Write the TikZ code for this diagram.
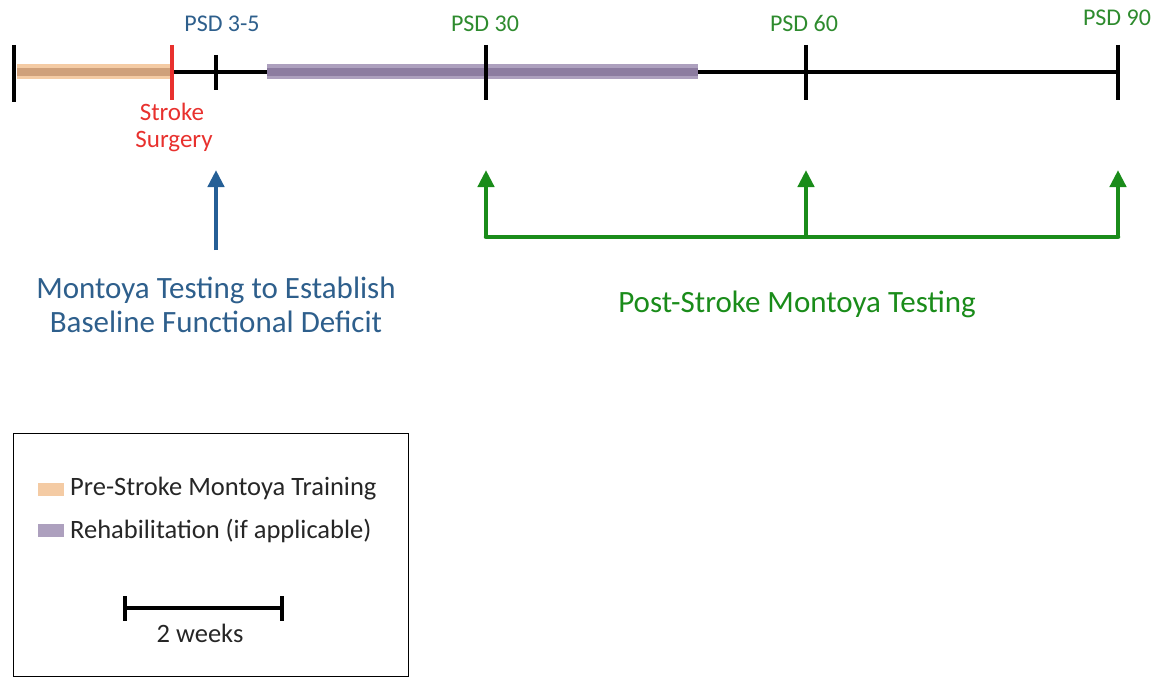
\documentclass[tikz,border=0pt]{standalone}
\usepackage{fontspec}
\setmainfont{Carlito}
\usetikzlibrary{arrows.meta}
\definecolor{tlblue}{HTML}{2E5F8C}
\definecolor{tlgreen}{HTML}{2E8B2E}
\definecolor{argreen}{HTML}{1A8C1A}
\definecolor{arblue}{HTML}{255F96}
\definecolor{tlred}{HTML}{E8312E}
\definecolor{orangeL}{HTML}{F4CBA4}
\definecolor{orangeD}{HTML}{CFA07A}
\definecolor{purpL}{HTML}{ADA0BE}
\definecolor{purpD}{HTML}{8C7CA0}
\tikzset{
  tline/.style={line width=4pt, black},
  ttick/.style={line width=4pt, black},
  lbl/.style={font=\fontsize{24}{28}\selectfont, inner sep=0pt, anchor=base},
  big/.style={font=\fontsize{31}{34}\selectfont, inner sep=0pt, anchor=base},
  leg/.style={font=\fontsize{26.5}{30}\selectfont, inner sep=0pt, anchor=base west},
  upar/.style={line width=4.5pt, -{Triangle[width=16pt,length=17pt]}},
  garrow/.style={upar, argreen},
}
\begin{document}
\begin{tikzpicture}[x=1pt,y=-1pt]
\useasboundingbox (0,0) rectangle (1170,677);
% timeline coordinates
\coordinate (t0) at (14,72);
\coordinate (t0b) at (17,72);
\coordinate (ts) at (172,72);
\coordinate (t3) at (216,72);
\coordinate (rs) at (267,72);
\coordinate (t30) at (486,72);
\coordinate (re) at (698,72);
\coordinate (t60) at (806,72);
\coordinate (t90) at (1118,72);
% bars
\draw[line width=15pt, orangeL] (t0b) -- (ts);
\draw[line width=8pt, orangeD] (t0b) -- (ts);
\draw[tline] (ts) -- (rs);
\draw[line width=15pt, purpL] (rs) -- (re);
\draw[line width=8pt, purpD] (rs) -- (re);
\draw[tline] (re) -- (t90);
% ticks
\draw[ttick] (14,45) -- (14,102);
\draw[line width=4pt, tlred] (172,45) -- (172,100);
\draw[ttick] (216,55) -- (216,90);
\draw[ttick] (486,45) -- (486,100);
\draw[ttick] (806,45) -- (806,100);
\draw[ttick] (1118,45) -- (1118,100);
% labels
\node[lbl, tlblue] (l3) at (222,32) {PSD 3-5};
\node[lbl, tlgreen] (l30) at (485,32) {PSD 30};
\node[lbl, tlgreen] (l60) at (804,32) {PSD 60};
\node[lbl, tlgreen] (l90) at (1117,26) {PSD 90};
\node[lbl, font=\fontsize{25}{28}\selectfont, tlred] (sk1) at (172,120) {Stroke};
\node[lbl, font=\fontsize{25}{28}\selectfont, tlred] (sk2) at (174,147) {Surgery};
% arrows
\coordinate (ba) at (216,250);
\coordinate (bt) at (216,170);
\draw[upar, arblue] (ba) -- (bt);
\coordinate (g1) at (486,237);
\coordinate (g2) at (806,237);
\coordinate (g3) at (1118,237);
\coordinate (g1t) at (486,170);
\coordinate (g2t) at (806,170);
\coordinate (g3t) at (1118,170);
\draw[line width=4.5pt, argreen, line cap=round] (g1) -- (g3);
\draw[garrow] (g1) -- (g1t);
\draw[garrow] (g2) -- (g2t);
\draw[garrow] (g3) -- (g3t);
% big texts
\node[big, tlblue] (mt1) at (216,298) {Montoya Testing to Establish};
\node[big, tlblue] (mt2) at (216,332) {Baseline Functional Deficit};
\node[big, argreen] (pt) at (797,312) {Post-Stroke Montoya Testing};
% legend
\node[draw=black, line width=1pt, minimum width=395pt, minimum height=243pt, anchor=north west, inner sep=0pt] (box) at (13,433) {};
\draw[line width=13pt, orangeL] (38,489) -- (64,489);
\draw[line width=13pt, purpL] (38,530) -- (64,530);
\node[leg, black!85] (lg1) at (70,495) {Pre-Stroke Montoya Training};
\node[leg, black!85] (lg2) at (70,538) {Rehabilitation (if applicable)};
\coordinate (sa) at (125,608);
\coordinate (sb) at (282,608);
\draw[line width=4pt] (sa) -- (sb);
\draw[line width=4pt] (125,596) -- (125,621);
\draw[line width=4pt] (282,596) -- (282,621);
\node[lbl, font=\fontsize{26.5}{30}\selectfont, black!85] (wk) at (200,642) {2 weeks};
\end{tikzpicture}
\end{document}
